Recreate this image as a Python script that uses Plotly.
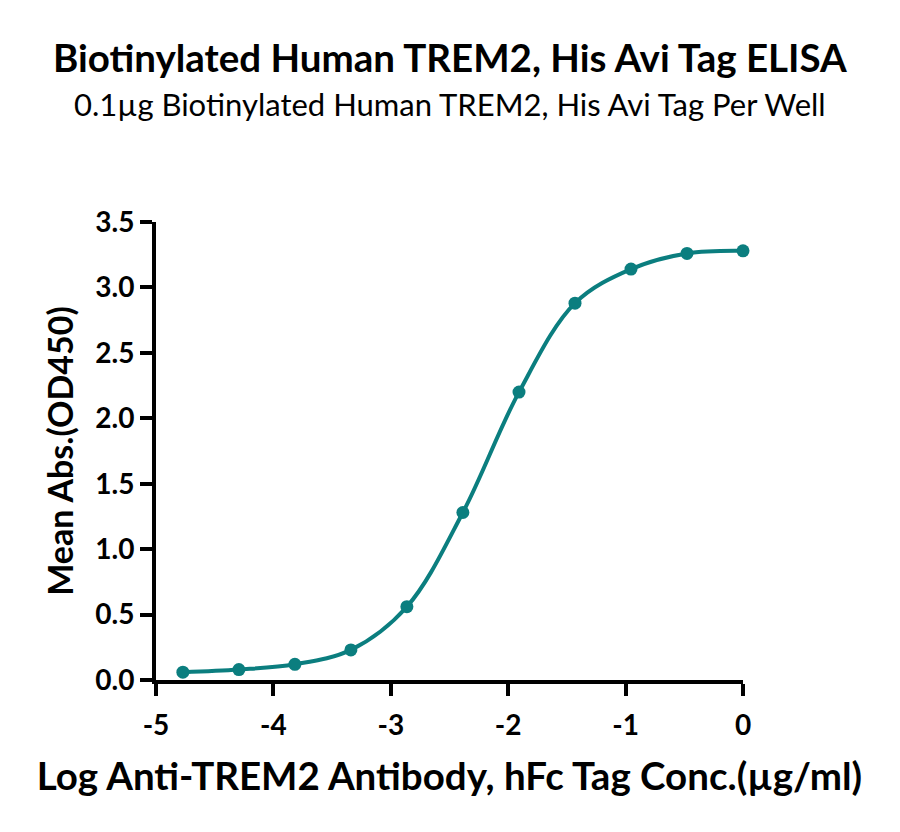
import plotly.graph_objects as go

# log concentration (ug/ml) and mean absorbance
log_conc = [-4.771, -4.294, -3.817, -3.340, -2.863, -2.386, -1.908, -1.431, -0.954, -0.477, 0.0]
mean_abs = [0.06, 0.08, 0.12, 0.23, 0.56, 1.28, 2.20, 2.88, 3.14, 3.26, 3.28]

x_ticks = [-5, -4, -3, -2, -1, 0]
x_tick_labels = ["-5", "-4", "-3", "-2", "-1", "0"]
y_ticks = [0.0, 0.5, 1.0, 1.5, 2.0, 2.5, 3.0, 3.5]

teal = "#0b7e7f"
font = "Lato"

fig = go.Figure()
fig.add_trace(go.Scatter(
    x=log_conc, y=mean_abs,
    mode="lines+markers",
    line=dict(color=teal, width=4, shape="spline", smoothing=1.0),
    marker=dict(color=teal, size=13),
    cliponaxis=False,
    showlegend=False,
))

axis_style = dict(
    showline=True, linecolor="black", linewidth=4,
    ticks="outside", ticklen=12, tickwidth=3.5, tickcolor="black",
    showgrid=False, zeroline=False,
    tickfont=dict(family=font, size=28, color="black", weight="bold"),
)

fig.update_xaxes(
    range=[-5, 0], tickvals=x_ticks, ticktext=x_tick_labels,
    ticklabelstandoff=5,
    title=dict(text="Log Anti-TREM2 Antibody, hFc Tag Conc.(µg/ml)",
               font=dict(family=font, size=38.5, color="black", weight="bold"),
               standoff=24),
    **axis_style,
)
fig.update_yaxes(
    range=[0, 3.5], tickvals=y_ticks, tickformat=".1f",
    title=dict(text="Mean Abs.(OD450)",
               font=dict(family=font, size=34, color="black", weight="bold"),
               standoff=12),
    **axis_style,
)

fig.add_annotation(
    text="<b>Biotinylated Human TREM2, His Avi Tag ELISA</b>",
    xref="paper", yref="paper", x=0.5, y=1 + 165 / 458,
    xanchor="center", yanchor="middle", showarrow=False,
    font=dict(family=font, size=38.5, color="black"),
)
fig.add_annotation(
    text="0.1µg Biotinylated Human TREM2, His Avi Tag Per Well",
    xref="paper", yref="paper", x=0.5, y=1 + 118 / 458,
    xanchor="center", yanchor="middle", showarrow=False,
    font=dict(family=font, size=31, color="black"),
)

fig.update_layout(
    width=900, height=832,
    margin=dict(l=148, r=165, t=214, b=160),
    plot_bgcolor="white", paper_bgcolor="white",
)

fig.write_html("out.html")
